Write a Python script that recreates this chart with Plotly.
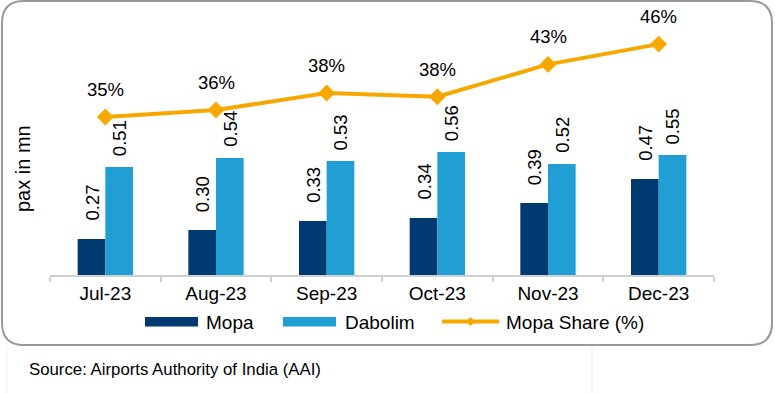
import plotly.graph_objects as go

# ---- data ----
months = ["Jul-23", "Aug-23", "Sep-23", "Oct-23", "Nov-23", "Dec-23"]
mopa = [0.27, 0.30, 0.33, 0.34, 0.39, 0.47]
dabolim = [0.51, 0.54, 0.53, 0.56, 0.52, 0.55]
mopa_share = [34.6, 35.7, 38.4, 37.8, 42.9, 46.1]

# ---- styles ----
C_MOPA = "#003A70"
C_DAB = "#219ED3"
C_LINE = "#F6A800"
FONT = "Liberation Sans, Arial, sans-serif"
W, H = 775, 393
ML, MR, MT, MB = 50, 61, 20, 118
PW, PH = W - ML - MR, H - MT - MB


def px(x):
    return (x - ML) / PW


def py(y):
    return (H - MB - y) / PH


fig = go.Figure()
fig.add_trace(go.Bar(x=months, y=mopa, name="Mopa", marker=dict(color=C_MOPA, line_width=0),
                     showlegend=False))
fig.add_trace(go.Bar(x=months, y=dabolim, name="Dabolim", marker=dict(color=C_DAB, line_width=0),
                     showlegend=False))
fig.add_trace(go.Scatter(x=months, y=mopa_share, name="Mopa Share (%)", yaxis="y2",
                         mode="lines+markers", line=dict(color=C_LINE, width=4),
                         marker=dict(symbol="diamond", size=13, color=C_LINE),
                         showlegend=False))

ann = []
# bar labels
for m, v in zip(months, mopa):
    ann.append(dict(x=m, y=v, xref="x", yref="y", text=f"{v:.2f}", textangle=-90,
                    showarrow=False, xanchor="center", yanchor="bottom", xshift=-13.8, yshift=16,
                    font=dict(size=18.5, color="#000")))
for m, v in zip(months, dabolim):
    ann.append(dict(x=m, y=v, xref="x", yref="y", text=f"{v:.2f}", textangle=-90,
                    showarrow=False, xanchor="center", yanchor="bottom", xshift=13.8, yshift=9,
                    font=dict(size=18.5, color="#000")))
# share labels
for m, v in zip(months, mopa_share):
    ann.append(dict(x=m, y=v, xref="x", yref="y2", text=f"{v:.0f}%",
                    showarrow=False, xanchor="center", yanchor="bottom", yshift=15,
                    font=dict(size=18.5, color="#000")))
# y-axis title
ann.append(dict(x=px(23), y=py(169), xref="paper", yref="paper", text="pax in mn", textangle=-90,
                showarrow=False, xanchor="center", yanchor="middle", font=dict(size=20, color="#000")))
# legend texts
leg_y = py(322)
ann.append(dict(x=px(204), y=leg_y, xref="paper", yref="paper", text="Mopa", showarrow=False,
                xanchor="left", yanchor="middle", font=dict(size=19, color="#000")))
ann.append(dict(x=px(343), y=leg_y, xref="paper", yref="paper", text="Dabolim", showarrow=False,
                xanchor="left", yanchor="middle", font=dict(size=19, color="#000")))
ann.append(dict(x=px(504), y=leg_y, xref="paper", yref="paper", text="Mopa Share (%)", showarrow=False,
                xanchor="left", yanchor="middle", font=dict(size=19, color="#000")))
# source
ann.append(dict(x=px(27), y=py(369), xref="paper", yref="paper",
                text="Source: Airports Authority of India (AAI)", showarrow=False,
                xanchor="left", yanchor="middle", font=dict(size=16.8, color="#000")))

shapes = []
# rounded border
L, T, R, B, r = 2, 1, 772, 345, 22
pts = (f"M {px(L + r)},{py(T)} L {px(R - r)},{py(T)} Q {px(R)},{py(T)} {px(R)},{py(T + r)} "
       f"L {px(R)},{py(B - r)} Q {px(R)},{py(B)} {px(R - r)},{py(B)} "
       f"L {px(L + r)},{py(B)} Q {px(L)},{py(B)} {px(L)},{py(B - r)} "
       f"L {px(L)},{py(T + r)} Q {px(L)},{py(T)} {px(L + r)},{py(T)} Z")
shapes.append(dict(type="path", path=pts, xref="paper", yref="paper",
                   line=dict(color="#9A9A9A", width=2), layer="below"))
# faint crop lines
for xx in (7, 592):
    shapes.append(dict(type="line", xref="paper", yref="paper", x0=px(xx), x1=px(xx),
                       y0=py(346), y1=py(393), line=dict(color="#EFEFEF", width=1)))
# legend swatches
shapes.append(dict(type="rect", xref="paper", yref="paper", x0=px(145), x1=px(198),
                   y0=py(317), y1=py(326.5), fillcolor=C_MOPA, line_width=0))
shapes.append(dict(type="rect", xref="paper", yref="paper", x0=px(283), x1=px(336),
                   y0=py(317), y1=py(326.5), fillcolor=C_DAB, line_width=0))
shapes.append(dict(type="line", xref="paper", yref="paper", x0=px(442), x1=px(499),
                   y0=py(321.5), y1=py(321.5), line=dict(color=C_LINE, width=4)))
cx, cy, d = 470.5, 321.5, 4.5
shapes.append(dict(type="path", xref="paper", yref="paper",
                   path=f"M {px(cx - d)},{py(cy)} L {px(cx)},{py(cy - d)} L {px(cx + d)},{py(cy)} L {px(cx)},{py(cy + d)} Z",
                   fillcolor=C_LINE, line_width=0))

fig.update_layout(
    width=W, height=H, margin=dict(l=ML, r=MR, t=MT, b=MB, pad=0),
    paper_bgcolor="white", plot_bgcolor="white",
    font=dict(family=FONT, color="#000"),
    barmode="group", bargap=0.5, bargroupgap=0,
    showlegend=False,
    xaxis=dict(type="category", showgrid=False, showline=True, linecolor="#D0D0D0", linewidth=1.5,
               ticks="outside", tickson="boundaries", ticklen=5, tickcolor="#D0D0D0", tickwidth=1.5,
               tickfont=dict(size=19, color="#000"), zeroline=False),
    yaxis=dict(range=[0.15, 1.0], visible=False, showgrid=False, zeroline=False),
    yaxis2=dict(range=[9.7, 49.9], overlaying="y", side="right", visible=False,
                showgrid=False, zeroline=False),
    annotations=ann, shapes=shapes,
)

fig.write_html(
    "out.html",
    config={"displayModeBar": False},
    post_script="document.body.style.margin='0';document.body.style.overflow='hidden';",
)
